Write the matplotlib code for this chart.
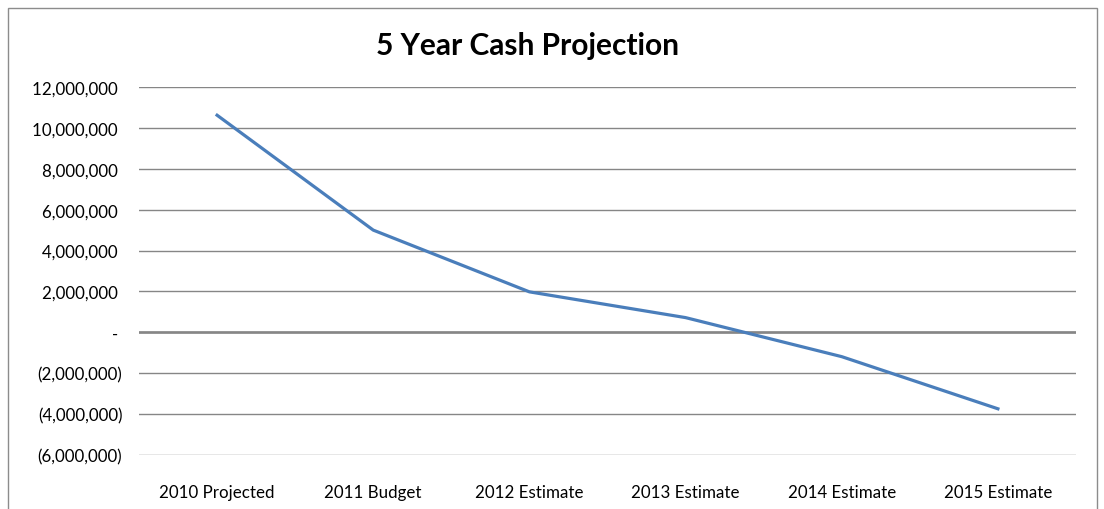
"""Five year cash projection line chart."""

import matplotlib.pyplot as plt
from matplotlib.patches import Rectangle
from matplotlib.ticker import FuncFormatter, MultipleLocator

categories = [
    "2010 Projected",
    "2011 Budget",
    "2012 Estimate",
    "2013 Estimate",
    "2014 Estimate",
    "2015 Estimate",
]
cash = [10_620_000, 5_000_000, 1_980_000, 720_000, -1_190_000, -3_740_000]

plt.rcParams["font.family"] = ["Lato", "DejaVu Sans"]

LINE_BLUE = "#4a7ebb"
GRID_GREY = "#868686"


def accounting(value, _pos):
    """Excel style accounting number format."""
    if abs(value) < 1:
        return "- "
    if value < 0:
        return f"({abs(value):,.0f})"
    return f"{value:,.0f} "


fig = plt.figure(figsize=(11.04, 5.10), dpi=100)
ax = fig.add_axes([139 / 1104, 1 - 456 / 510, 937 / 1104, 368 / 510])

# outer chart frame, cut off at the bottom edge
fig.patches.append(
    Rectangle(
        (8 / 1104, -0.05), 1089 / 1104, 1 - 9 / 510 + 0.05,
        transform=fig.transFigure, fill=False, edgecolor="#8c8c8c",
        linewidth=1.0,
    )
)

x = range(len(categories))
ax.plot(x, cash, color=LINE_BLUE, linewidth=2.3, solid_joinstyle="round",
        zorder=3)

ax.set_xlim(-0.5, len(categories) - 0.5)
ax.set_ylim(-6_000_000, 12_000_000)
ax.yaxis.set_major_locator(MultipleLocator(2_000_000))
ax.yaxis.set_major_formatter(FuncFormatter(accounting))
ax.set_xticks(list(x))
ax.set_xticklabels(categories)

ax.grid(axis="y", color=GRID_GREY, linewidth=1.0)
ax.axhline(0, color=GRID_GREY, linewidth=1.9, zorder=2)
ax.set_axisbelow(True)
for spine in ax.spines.values():
    spine.set_visible(False)
ax.tick_params(axis="both", length=0, labelsize=12.2, colors="black")
ax.tick_params(axis="x", pad=21)
ax.tick_params(axis="y", pad=12)

fig.text(527 / 1104, 1 - 46 / 510, "5 Year Cash Projection",
         ha="center", va="center", fontsize=21.5, fontweight="bold")

fig.savefig("out.png", dpi=100)
plt.close(fig)
